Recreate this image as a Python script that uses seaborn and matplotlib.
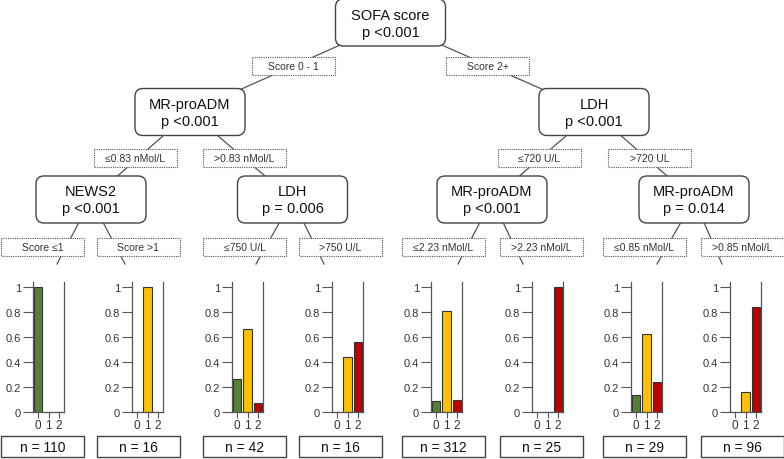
import matplotlib
matplotlib.use("Agg")
import matplotlib.pyplot as plt
from matplotlib.patches import FancyBboxPatch, Rectangle
import seaborn as sns
import pandas as pd

# tree content
node_vars = ["SOFA score", "MR-proADM", "LDH", "NEWS2", "LDH", "MR-proADM", "MR-proADM"]
node_pvals = ["p <0.001", "p <0.001", "p <0.001", "p <0.001", "p = 0.006", "p <0.001", "p = 0.014"]
node_parent = [None, 0, 0, 1, 1, 2, 2]
split_labels = ["Score 0 - 1", "Score 2+",
                "\u22640.83 nMol/L", ">0.83 nMol/L", "\u2264720 U/L", ">720 UL"]
leaf_labels = ["Score \u22641", "Score >1", "\u2264750 U/L", ">750 U/L",
               "\u22642.23 nMol/L", ">2.23 nMol/L", "\u22640.85 nMol/L", ">0.85 nMol/L"]
leaf_parent = [3, 3, 4, 4, 5, 5, 6, 6]
leaf_n = [110, 16, 42, 16, 312, 25, 29, 96]
classes = ["0", "1", "2"]
leaf_props = [
    [1.0, 0.0, 0.0],
    [0.0, 1.0, 0.0],
    [0.262, 0.667, 0.071],
    [0.0, 0.4375, 0.5625],
    [0.090, 0.811, 0.099],
    [0.0, 0.0, 1.0],
    [0.138, 0.621, 0.241],
    [0.0, 0.16, 0.84],
]
class_colors = ["#538135", "#FFC000", "#C00000"]

# layout (pixel units, y down)
W, H = 784, 460
node_xy = [(390.5, 23.5), (190, 113), (594, 113), (91, 200.5),
           (292.5, 200.5), (492, 200.5), (694, 200.5)]
node_w, node_h = 110, 47
split_box_x = [252, 446, 94, 203, 498, 608]
split_box_y = [58, 58, 150, 150, 150, 150]
leaf_box_x = [1, 97, 203, 299, 402, 500, 603, 701]
lab_w, lab_h = 83, 18
leaf_lab_y = 239
leaf_line_end = [57, 125, 256, 324, 458, 523, 657, 722]
leaf_top = 265
panel_left = [33, 132, 232, 332, 431, 532, 631, 730]
panel_w = 31
panel_top, panel_bot = 283, 413
nbox_y, nbox_h = 437, 21

plt.rcParams['font.family'] = ['Liberation Sans', 'DejaVu Sans']
fig = plt.figure(figsize=(W / 100, H / 100), dpi=100)
bg = fig.add_axes([0, 0, 1, 1])
bg.set_xlim(0, W)
bg.set_ylim(H, 0)
bg.axis("off")

line_kw = dict(color="#555555", lw=0.9, zorder=1)

# edges between inner nodes
for i, p in enumerate(node_parent):
    if p is None:
        continue
    bg.plot([node_xy[p][0], node_xy[i][0]], [node_xy[p][1], node_xy[i][1]], **line_kw)

# edges to leaves
for j, p in enumerate(leaf_parent):
    bg.plot([node_xy[p][0], leaf_line_end[j]], [node_xy[p][1], leaf_top], **line_kw)

# inner node boxes
for (cx, cy), name, pv in zip(node_xy, node_vars, node_pvals):
    box = FancyBboxPatch((cx - node_w / 2, cy - node_h / 2), node_w, node_h,
                         boxstyle="round,pad=0,rounding_size=8",
                         fc="white", ec="#444444", lw=1, zorder=3)
    bg.add_patch(box)
    bg.text(cx, cy - 8, name, ha="center", va="center", fontsize=10.5, color="#111111", zorder=4)
    bg.text(cx, cy + 9, pv, ha="center", va="center", fontsize=10.5, color="#111111", zorder=4)


def split_box(x, y, text):
    bg.add_patch(Rectangle((x, y), lab_w, lab_h, fc="white", ec="#555555",
                           lw=0.8, ls=(0, (1, 1)), zorder=3))
    bg.text(x + lab_w / 2, y + lab_h / 2, text, ha="center", va="center",
            fontsize=7.5, color="#333333", zorder=4)


for x, y, t in zip(split_box_x, split_box_y, split_labels):
    split_box(x, y, t)
for x, t in zip(leaf_box_x, leaf_labels):
    split_box(x, leaf_lab_y, t)

# n boxes
for x, n in zip(leaf_box_x, leaf_n):
    bg.add_patch(Rectangle((x, nbox_y), lab_w, nbox_h, fc="white", ec="#444444", lw=1, zorder=3))
    bg.text(x + lab_w / 2, nbox_y + nbox_h / 2 + 0.5, f"n = {n}", ha="center", va="center",
            fontsize=10, color="#111111", zorder=4)

# leaf bar charts
for j, props in enumerate(leaf_props):
    rect = [panel_left[j] / W, (H - panel_bot) / H, panel_w / W, (panel_bot - panel_top) / H]
    ax = fig.add_axes(rect)
    df = pd.DataFrame({"cls": classes, "prop": props})
    sns.barplot(data=df, x="cls", y="prop", hue="cls", order=classes, hue_order=classes,
                palette=class_colors, saturation=1, legend=False, width=0.8,
                edgecolor="#333333", linewidth=0.8, ax=ax)
    ax.set_xlim(-0.5, 2.5)
    ax.set_ylim(0, 1.04)
    ax.set_yticks([0, 0.2, 0.4, 0.6, 0.8, 1.0])
    ax.set_yticklabels(["0", "0.2", "0.4", "0.6", "0.8", "1"])
    ax.set_xlabel("")
    ax.set_ylabel("")
    ax.set_facecolor("none")
    for s in ["left", "right", "bottom"]:
        ax.spines[s].set_color("#555555")
        ax.spines[s].set_linewidth(0.9)
    ax.spines["top"].set_visible(False)
    ax.tick_params(axis="y", length=7, width=0.8, color="#555555", labelsize=8,
                   labelcolor="#333333", pad=1.5, left=True)
    ax.tick_params(axis="x", length=4, width=0.8, color="#555555", labelsize=8.5,
                   labelcolor="#333333", pad=1, bottom=True)

fig.savefig("out.png", dpi=100)
